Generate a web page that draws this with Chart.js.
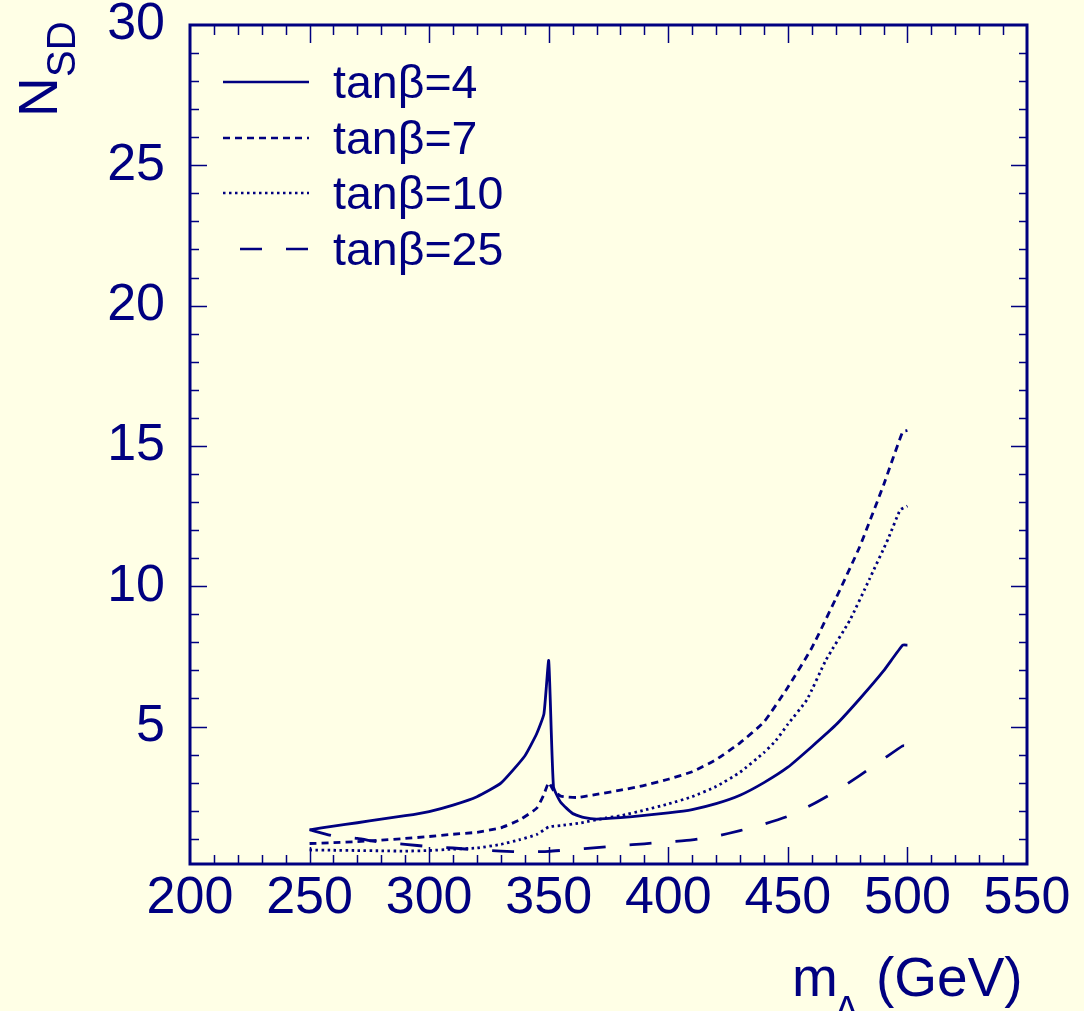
<!DOCTYPE html>
<html><head><meta charset="utf-8">
<script src="https://cdn.jsdelivr.net/npm/chart.js@4.4.1/dist/chart.umd.min.js"></script>
<style>html,body{margin:0;padding:0;background:#ffffe6;}</style>
</head><body>
<canvas id="c" width="1084" height="1011"></canvas>
<script>
// ---- data ----
const xTickValues = [200, 250, 300, 350, 400, 450, 500, 550];
const yTickValues = [5, 10, 15, 20, 25, 30];
const seriesLabels = ['tanβ=4', 'tanβ=7', 'tanβ=10', 'tanβ=25'];

const tb4X = [250,260,270,280,290,300,310,320,330,340,345,348,350,352,355,360,365,370,380,390,400,410,420,430,440,450,460,470,480,490,498,500];
const tb4Y = [1.32,1.45,1.57,1.70,1.82,1.97,2.20,2.50,2.98,3.95,4.75,5.45,7.35,2.85,2.30,1.90,1.75,1.70,1.75,1.83,1.92,2.04,2.25,2.55,3.00,3.55,4.28,5.05,5.98,6.98,7.90,7.90];

const tb7X = [250,260,270,280,290,300,310,320,330,338,345,348,350,352,355,362,370,380,390,400,410,420,430,440,450,460,470,480,490,498,500];
const tb7Y = [0.83,0.86,0.90,0.95,1.01,1.08,1.16,1.23,1.39,1.68,2.09,2.58,3.00,2.72,2.52,2.47,2.58,2.73,2.90,3.12,3.39,3.82,4.42,5.16,6.40,7.80,9.55,11.40,13.60,15.50,15.55];

const tb10X = [250,260,270,280,290,300,310,320,330,338,345,350,355,363,374,380,390,400,410,420,430,440,445,450,458,466,476,484,492,497,500];
const tb10Y = [0.60,0.59,0.58,0.57,0.56,0.58,0.63,0.67,0.80,0.97,1.15,1.42,1.47,1.56,1.74,1.82,2.02,2.24,2.50,2.86,3.37,4.07,4.50,5.08,5.96,7.38,8.80,10.23,11.70,12.72,12.86];

const tb25X = [250,260,270,280,290,300,310,320,330,340,350,360,370,380,390,400,410,420,430,440,450,460,470,480,490,498,500];
const tb25Y = [1.32,1.10,1.01,0.87,0.80,0.72,0.67,0.60,0.56,0.53,0.55,0.62,0.68,0.76,0.82,0.89,0.96,1.09,1.29,1.52,1.80,2.21,2.69,3.25,3.84,4.31,4.31];

// ---- styles ----
const NAVY = '#000080';
const BG = '#ffffe6';
const FONT = "'Liberation Sans', Arial, Helvetica, sans-serif";
const dashes = [[], [7,5], [2.5,3.5], [22,24]];

function pts(xs, ys){ return xs.map((x,i)=>({x:x, y:ys[i]})); }
const allX = [tb4X, tb7X, tb10X, tb25X];
const allY = [tb4Y, tb7Y, tb10Y, tb25Y];

const datasets = seriesLabels.map((lab, i) => ({
  label: lab,
  data: pts(allX[i], allY[i]),
  borderColor: NAVY,
  borderWidth: 2.8,
  borderDash: dashes[i],
  borderCapStyle: 'butt',
  pointRadius: 0,
  tension: 0.15,
  fill: false
}));

const framePlugin = {
  id: 'frame',
  beforeDraw(chart){
    const ctx = chart.ctx;
    ctx.save();
    ctx.fillStyle = BG;
    ctx.fillRect(0,0,chart.width,chart.height);
    ctx.restore();
  },
  afterDraw(chart){
    const ctx = chart.ctx;
    const a = chart.chartArea;
    const xs = chart.scales.x, ys = chart.scales.y;
    ctx.save();
    ctx.strokeStyle = NAVY;
    ctx.lineWidth = 1.5;
    for (let v = 210; v < 550; v += 10) {
      const px = Math.round(xs.getPixelForValue(v)) + 0.5;
      const major = v % 50 === 0;
      const lb = major ? 17 : 9, lt = major ? 18 : 10;
      ctx.beginPath();
      ctx.moveTo(px, a.bottom); ctx.lineTo(px, a.bottom - lb);
      ctx.moveTo(px, a.top); ctx.lineTo(px, a.top + lt);
      ctx.stroke();
    }
    for (let v = 1; v < 30; v += 1) {
      const py = Math.round(ys.getPixelForValue(v)) + 0.5;
      const major = v % 5 === 0;
      const ll = major ? 17 : 9, lr = major ? 16 : 8;
      ctx.beginPath();
      ctx.moveTo(a.left, py); ctx.lineTo(a.left + ll, py);
      ctx.moveTo(a.right, py); ctx.lineTo(a.right - lr, py);
      ctx.stroke();
    }
    ctx.lineWidth = 3;
    ctx.strokeRect(a.left, a.top, a.right - a.left, a.bottom - a.top);

    // legend
    const lx0 = 223, lx1 = 309, tx = 333;
    const rowY = [82, 138, 193, 249];
    ctx.font = '46.5px ' + FONT;
    ctx.fillStyle = NAVY;
    ctx.textBaseline = 'alphabetic';
    ctx.textAlign = 'left';
    chart.data.datasets.forEach((ds, i) => {
      ctx.save();
      ctx.lineWidth = 2.5;
      ctx.setLineDash(ds.borderDash);
      ctx.beginPath();
      const sx = i === 3 ? 240 : lx0;
      ctx.moveTo(sx, rowY[i]); ctx.lineTo(lx1, rowY[i]);
      ctx.stroke();
      ctx.restore();
      ctx.fillText(ds.label, tx, rowY[i] + 16);
    });

    // x title: m_A (GeV)
    ctx.font = '55px ' + FONT;
    ctx.fillText('m', 792, 996);
    ctx.font = '38px ' + FONT;
    ctx.fillText('A', 834, 1023);
    ctx.font = '55px ' + FONT;
    ctx.fillText('(GeV)', 876, 996);

    // y title: N_SD rotated
    ctx.save();
    ctx.translate(57, 117);
    ctx.rotate(-Math.PI/2);
    ctx.font = '55px ' + FONT;
    ctx.fillText('N', 0, 0);
    ctx.font = '40px ' + FONT;
    ctx.fillText('SD', 40, 18);
    ctx.restore();
    ctx.restore();
  }
};

new Chart(document.getElementById('c'), {
  type: 'line',
  data: { datasets: datasets },
  plugins: [framePlugin],
  options: {
    responsive: false,
    animation: false,
    devicePixelRatio: 1,
    layout: { padding: { top: 25, right: 57, left: 0, bottom: 0 } },
    plugins: { legend: { display: false }, tooltip: { enabled: false } },
    scales: {
      x: {
        type: 'linear', min: 200, max: 550,
        afterBuildTicks: (s) => { s.ticks = xTickValues.map(v => ({ value: v })); },
        afterFit: (s) => { s.height = 147; s.paddingLeft = 0; s.paddingRight = 0; },
        grid: { display: false, drawTicks: false },
        border: { display: false },
        ticks: { color: NAVY, font: { family: FONT, size: 52 }, padding: 3, autoSkip: false, maxRotation: 0 }
      },
      y: {
        type: 'linear', min: 0.1, max: 30,
        afterBuildTicks: (s) => { s.ticks = yTickValues.map(v => ({ value: v })); },
        afterFit: (s) => { s.width = 190; s.paddingTop = 0; s.paddingBottom = 0; },
        grid: { display: false, drawTicks: false },
        border: { display: false },
        ticks: { color: NAVY, font: { family: FONT, size: 52 }, padding: 25, autoSkip: false }
      }
    }
  }
});
</script>
</body></html>
